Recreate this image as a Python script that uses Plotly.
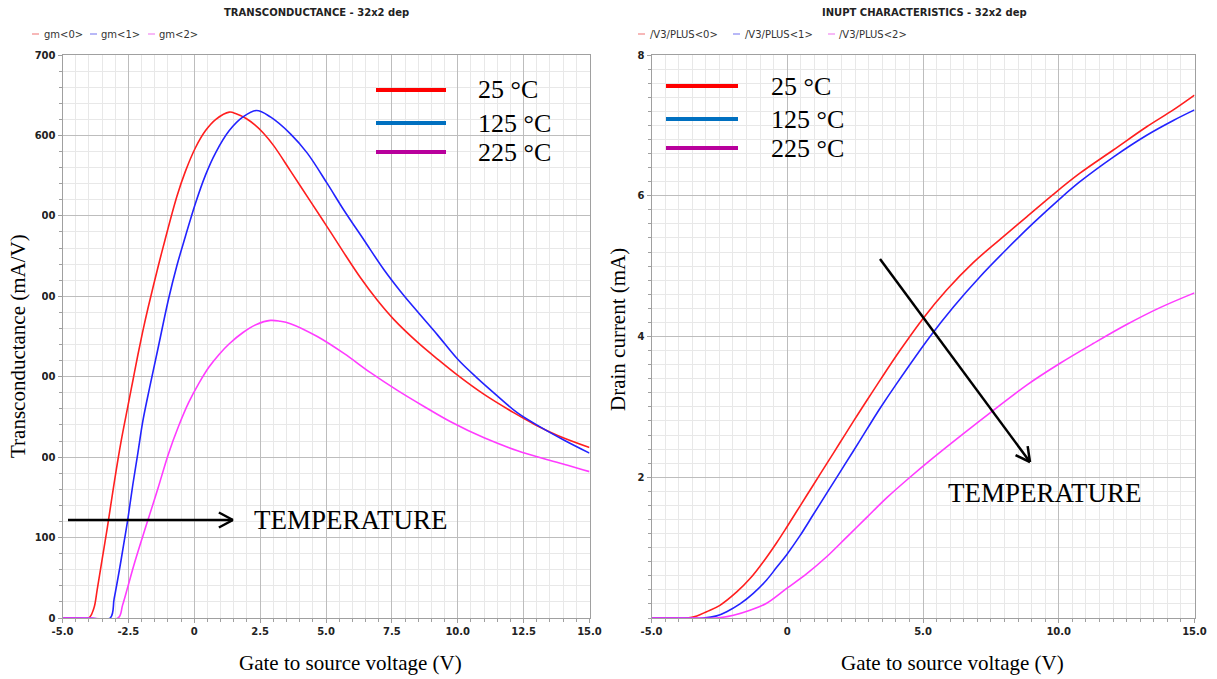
import math
import plotly.graph_objects as go

# ---------------- data ----------------
# Transconductance gm (mA/V) vs gate-to-source voltage (V), three temperatures
vgs_gm_25 = [-5, -4.5, -4.0, -3.81, -3.68, -3.49, -3.30, -3.17, -2.97, -2.78, -2.52, -2.33,
             -2.14, -1.95, -1.75, -1.37, -1.11, -0.66, -0.34, 0.05, 0.43, 0.82, 1.33, 1.59,
             1.97, 2.30, 2.62, 3.02, 3.65, 4.41, 5.05, 5.68, 6.31, 6.95, 7.58, 8.47, 9.23,
             9.99, 11.00, 12.14, 12.90, 13.79, 15.0]
gm_25 = [0, 0, 0, 12, 36, 74, 112, 140, 182, 219, 263, 295, 327, 357, 386, 437, 470, 524, 555,
         585, 606, 620, 629, 627, 621, 613, 603, 587, 556, 518, 486, 454, 423, 395, 371, 343,
         322, 302, 278, 255, 241, 227, 212]

vgs_gm_125 = [-5, -4.0, -3.19, -3.04, -2.84, -2.65, -2.52, -2.33, -2.14, -1.95, -1.69, -1.37,
              -0.98, -0.66, -0.34, 0.05, 0.43, 0.82, 1.33, 1.85, 2.36, 2.89, 3.65, 4.29, 5.05,
              5.68, 6.44, 7.20, 7.83, 8.47, 9.23, 9.99, 10.75, 11.51, 12.27, 13.16, 14.04, 15.0]
gm_125 = [0, 0, 0, 24, 60, 97, 123, 166, 205, 245, 287, 336, 396, 438, 474, 516, 551, 579, 606,
          623, 631, 623, 602, 578, 540, 507, 470, 433, 406, 381, 352, 322, 298, 276, 255, 237,
          221, 205]

vgs_gm_225 = [-5, -4.0, -2.89, -2.72, -2.52, -2.27, -1.95, -1.62, -1.37, -0.98, -0.60, -0.21,
              0.18, 0.56, 0.95, 1.33, 1.85, 2.36, 2.89, 3.26, 3.65, 4.67, 5.68, 6.69, 7.71,
              8.72, 9.73, 11.00, 12.27, 13.28, 14.17, 15.0]
gm_225 = [0, 0, 0, 16, 39, 68, 102, 136, 162, 204, 238, 268, 292, 312, 328, 341, 355, 365, 370,
          369, 366, 350, 329, 305, 283, 263, 244, 224, 208, 198, 190, 182]

# Drain current (mA) vs gate-to-source voltage (V)
vgs_id_25 = [-5, -4.4, -3.70, -3.33, -2.97, -2.48, -1.86, -1.37, -0.88, -0.39, -0.02, 0.47,
             0.96, 1.45, 1.94, 2.43, 2.93, 3.42, 4.15, 5.01, 5.87, 6.85, 7.84, 8.82, 9.80,
             10.78, 12.01, 13.24, 14.22, 15.0]
id_25 = [0, 0, 0, 0.03, 0.09, 0.18, 0.37, 0.56, 0.80, 1.07, 1.29, 1.59, 1.89, 2.19, 2.49, 2.79,
         3.09, 3.38, 3.80, 4.26, 4.66, 5.05, 5.38, 5.70, 6.02, 6.32, 6.65, 6.98, 7.22, 7.43]

vgs_id_125 = [-5, -4.0, -3.09, -2.60, -2.23, -1.74, -1.25, -0.76, -0.39, -0.02, 0.47, 0.96,
              1.45, 1.94, 2.43, 2.93, 3.42, 4.03, 5.26, 6.12, 7.10, 8.08, 9.06, 10.05, 10.78,
              12.01, 13.24, 14.22, 15.0]
id_125 = [0, 0, 0, 0.03, 0.09, 0.20, 0.35, 0.54, 0.72, 0.90, 1.17, 1.47, 1.77, 2.07, 2.37,
          2.68, 2.98, 3.33, 4.0, 4.42, 4.85, 5.24, 5.61, 5.96, 6.20, 6.55, 6.86, 7.07, 7.22]

vgs_id_225 = [-5, -3.8, -2.60, -1.98, -1.37, -0.76, -0.02, 0.72, 1.45, 2.19, 2.93, 3.67, 4.52,
              5.26, 6.49, 7.59, 8.82, 10.05, 11.27, 12.50, 13.73, 15.0]
id_225 = [0, 0, 0, 0.04, 0.11, 0.21, 0.42, 0.63, 0.87, 1.15, 1.43, 1.71, 2.00, 2.24, 2.62,
          2.95, 3.31, 3.62, 3.90, 4.17, 4.41, 4.62]

# tick labels
gm_xticks = [-5, -2.5, 0, 2.5, 5, 7.5, 10, 12.5, 15]
gm_xlabels = ["-5.0", "-2.5", "0", "2.5", "5.0", "7.5", "10.0", "12.5", "15.0"]
gm_yticks = [0, 100, 200, 300, 400, 500, 600, 700]
id_xticks = [-5, 0, 5, 10, 15]
id_xlabels = ["-5.0", "0", "5.0", "10.0", "15.0"]
id_yticks = [2, 4, 6, 8]

temps = ["25 °C", "125 °C", "225 °C"]
trace_colors = ["#FF1F1F", "#2323FF", "#FF3CFF"]
key_colors = ["#FF0000", "#0070C0", "#B8009C"]
pale_colors = ["#F4A0A0", "#A0A0F4", "#F4A0F4"]

W, H = 1217, 679


def px(x):
    return x / W


def py(y):
    return 1 - y / H


fig = go.Figure()

gm_sets = [(vgs_gm_25, gm_25), (vgs_gm_125, gm_125), (vgs_gm_225, gm_225)]
id_sets = [(vgs_id_25, id_25), (vgs_id_125, id_125), (vgs_id_225, id_225)]
for i, (xv, yv) in enumerate(gm_sets):
    fig.add_trace(go.Scatter(x=xv, y=yv, mode="lines", xaxis="x", yaxis="y",
                             line=dict(color=trace_colors[i], width=1.6, shape="spline",
                                       smoothing=1.0),
                             showlegend=False, name="gm<%d>" % i))
for i, (xv, yv) in enumerate(id_sets):
    fig.add_trace(go.Scatter(x=xv, y=yv, mode="lines", xaxis="x2", yaxis="y2",
                             line=dict(color=trace_colors[i], width=1.6, shape="spline",
                                       smoothing=1.0),
                             showlegend=False, name="/V3/PLUS<%d>" % i))

tickfont = dict(family="DejaVu Sans", size=10, color="#222222", weight="bold")
major_grid = "#BDBDBD"
minor_grid = "#E8E8E8"
axis_line = "#A0A0A0"


def axis(domain, rng, tickvals, ticktext, minor_dtick, minor_tick0, anchor):
    return dict(domain=domain, range=rng, anchor=anchor, tickmode="array", automargin=False,
                tickvals=tickvals, ticktext=ticktext, tickfont=tickfont,
                showgrid=True, gridcolor=major_grid, gridwidth=1, zeroline=False,
                showline=True, linecolor=axis_line, linewidth=1, mirror=True,
                ticks="outside", ticklen=4, tickcolor=axis_line,
                minor=dict(dtick=minor_dtick, tick0=minor_tick0, showgrid=True,
                           gridcolor=minor_grid, gridwidth=1, ticks="outside",
                           ticklen=3, tickcolor=axis_line))


ydom = [61 / H, 624 / H]
fig.update_layout(
    width=W, height=H, margin=dict(l=0, r=0, t=0, b=0, autoexpand=False),
    paper_bgcolor="white", plot_bgcolor="white", showlegend=False,
    xaxis=axis([px(62.5), px(589.5)], [-5, 15], gm_xticks, gm_xlabels, 0.5, -5, "y"),
    yaxis=axis(ydom, [0, 700], gm_yticks, [str(v) for v in gm_yticks], 20, 0, "x"),
    xaxis2=axis([px(651.5), px(1194.5)], [-5, 15], id_xticks, id_xlabels, 0.5, -5, "y2"),
    yaxis2=axis(ydom, [0, 8], id_yticks, [str(v) for v in id_yticks], 0.2, 0, "x2"),
)

shapes = []
annotations = []
serif = "Liberation Serif"


def text(x, y, s, size, family=serif, xanchor="left", color="#000000", weight="normal",
         angle=0):
    annotations.append(dict(x=px(x), y=py(y), xref="paper", yref="paper", text=s,
                            showarrow=False, xanchor=xanchor, yanchor="middle",
                            textangle=angle,
                            font=dict(family=family, size=size, color=color, weight=weight)))


def seg(x0, y0, x1, y1, color, width):
    shapes.append(dict(type="line", xref="paper", yref="paper", x0=px(x0), y0=py(y0),
                       x1=px(x1), y1=py(y1), line=dict(color=color, width=width)))


# chart titles
text(222, 12, "TRANSCONDUCTANCE - 32x2 dep", 10, family="DejaVu Sans", color="#222222",
     weight="bold")
text(820, 12, "INUPT CHARACTERISTICS - 32x2 dep", 10, family="DejaVu Sans", color="#222222",
     weight="bold")

# small series keys under the titles
for i, (d0, t0) in enumerate([(32, 42), (90, 99), (148, 157)]):
    seg(d0, 34, d0 + 7, 34, pale_colors[i], 1.5)
    text(t0, 34, "gm&lt;%d&gt;" % i, 10, family="DejaVu Sans", color="#333333")
for i, (d0, t0) in enumerate([(638, 648), (733, 743), (828, 837)]):
    seg(d0, 34, d0 + 7, 34, pale_colors[i], 1.5)
    text(t0, 34, "/V3/PLUS&lt;%d&gt;" % i, 10, family="DejaVu Sans", color="#333333")

# temperature keys
for i, yk in enumerate([90, 123, 152]):
    seg(376, yk, 446, yk, key_colors[i], 4)
    text(476, yk, temps[i], 26)
for i, yk in enumerate([86, 119, 148]):
    seg(666, yk, 738, yk, key_colors[i], 4)
    text(769, yk, temps[i], 26)


def arrow(x0, y0, x1, y1, arm=16):
    seg(x0, y0, x1, y1, "#000000", 2.5)
    dx, dy = x1 - x0, y1 - y0
    n = math.hypot(dx, dy)
    ux, uy = dx / n, dy / n
    for sgn in (1, -1):
        a = math.radians(28) * sgn
        rx = ux * math.cos(a) - uy * math.sin(a)
        ry = ux * math.sin(a) + uy * math.cos(a)
        seg(x1, y1, x1 - rx * arm, y1 - ry * arm, "#000000", 2.5)


arrow(68, 520, 233, 520)
text(252, 520, "TEMPERATURE", 27)
arrow(880, 259, 1030, 462)
text(946, 493, "TEMPERATURE", 27)

# axis titles
text(350, 663, "Gate to source voltage (V)", 21, xanchor="center")
text(952, 663, "Gate to source voltage (V)", 21, xanchor="center")
shapes.append(dict(type="rect", xref="paper", yref="paper", x0=0, x1=px(42), y0=py(466),
                   y1=py(208), fillcolor="white", line=dict(width=0), layer="above"))
text(18, 346, "Transconductance (mA/V)", 21, xanchor="center", angle=-90)
text(618, 330, "Drain current (mA)", 21, xanchor="center", angle=-90)

fig.update_layout(shapes=shapes, annotations=annotations)
fig.write_html("out.html")
